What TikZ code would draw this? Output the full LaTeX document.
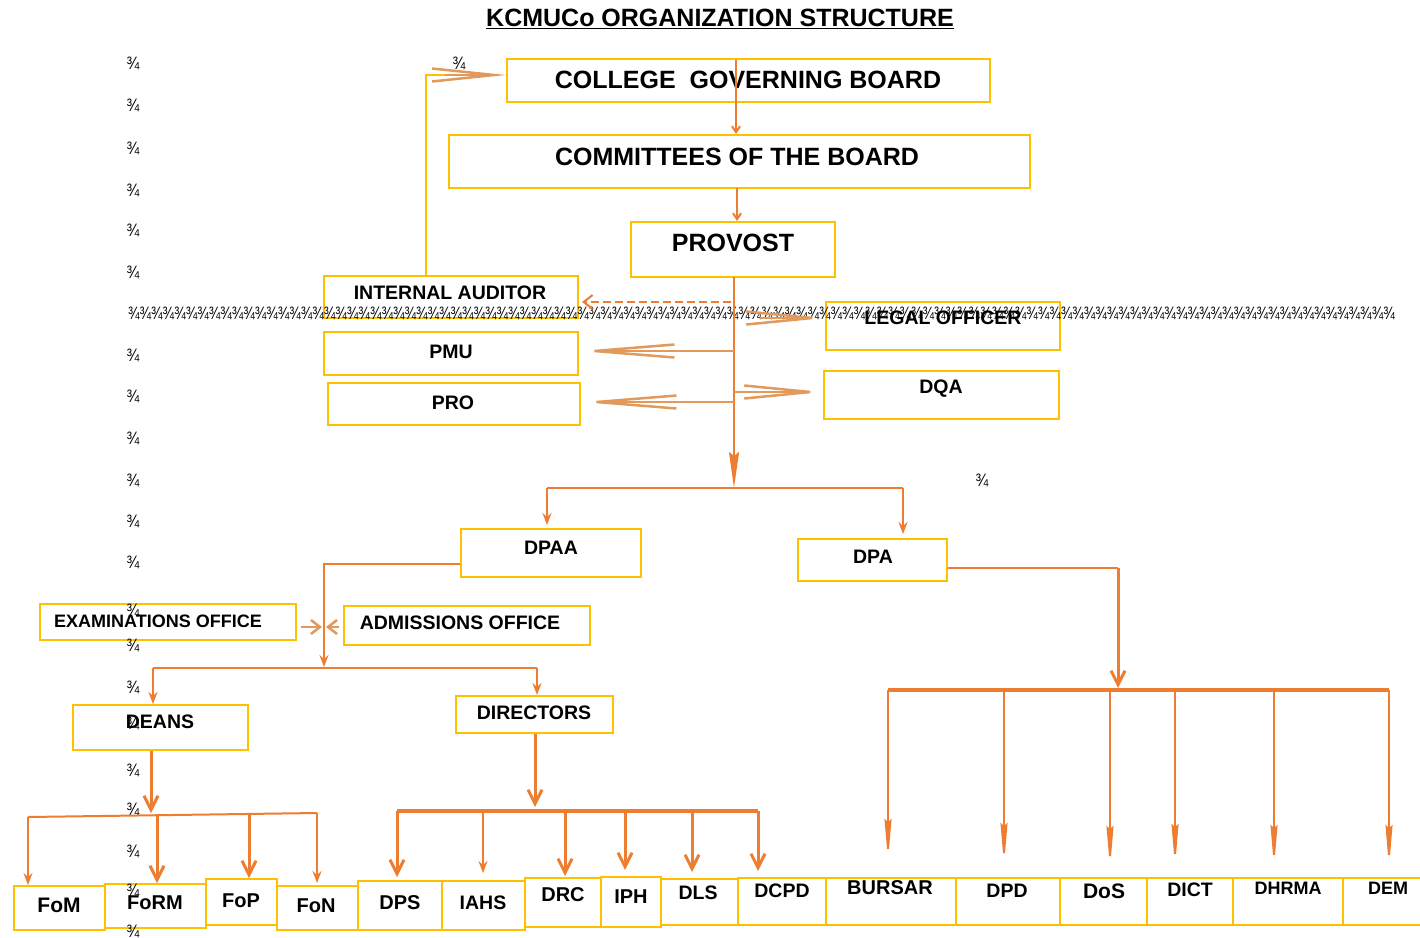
\documentclass[tikz,border=0pt]{standalone}
\usepackage{fontspec}
\setmainfont{Liberation Sans}
\usetikzlibrary{arrows.meta,calc}
\definecolor{boxY}{HTML}{FFC000}
\definecolor{org}{HTML}{ED7D31}
\definecolor{lorg}{HTML}{E2995C}
\newcommand\bxx[5]{\node[box, minimum width={(#4-#2)*1bp}, minimum height={(#5-#3)*1bp}] (#1) at ({(#2+#4)/2},{(#3+#5)/2}) {};}
\def\tenq{¾¾¾¾¾¾¾¾¾¾}
\begin{document}
\begin{tikzpicture}[x=1bp,y=-1bp,
  box/.style={draw=boxY, line width=2bp, inner sep=0pt, fill=none},
  lbl/.style={inner sep=0pt, font=\bfseries\fontsize{#1bp}{#1bp}\selectfont},
  lbl/.default=19.5,
  art/.style={inner sep=0pt, font=\fontsize{18bp}{18bp}\selectfont},
  con/.style={draw=org, line width=2bp},
  conT/.style={draw=org, line width=3bp},
  lcon/.style={draw=lorg, line width=2.5bp},
  yl/.style={draw=boxY, line width=2bp},
  hsmall/.style={-{Stealth[length=12bp,width=9bp,inset=4bp]}},
  hbarb/.style={-{Straight Barb[length=14bp,width=14bp]}},
  hlong/.style={-{Stealth[length=42bp,width=7bp,inset=3bp]}},
  hopen/.style={-{Straight Barb[length=#1,width=13bp]}},
  hchev/.style={-{Straight Barb[length=9bp,width=14bp]}}
]
\useasboundingbox (0,0) rectangle (1420,937);
\fill[white] (0,0) rectangle (1420,937);

% ---------- boxes ----------
\bxx{cgb}{507}{59}{990}{102}
\bxx{com}{449}{135}{1030}{188}
\bxx{prov}{631}{222}{835}{277}
\bxx{ia}{324}{276}{578}{318}
\bxx{legal}{826}{302}{1060}{350}
\bxx{pmu}{324}{332}{578}{375}
\bxx{pro}{328}{383}{580}{425}
\bxx{dqa}{824}{371}{1059}{419}
\bxx{dpaa}{461}{529}{641}{577}
\bxx{dpa}{798}{539}{947}{581}
\bxx{exam}{40}{604}{296}{640}
\bxx{adm}{344}{606}{590}{645}
\bxx{deans}{73}{705}{248}{750}
\bxx{dirs}{456}{696}{613}{733}
\bxx{fom}{14}{886}{105}{930}
\bxx{form}{105}{884}{206}{928}
\bxx{fop}{206}{879}{277}{925}
\bxx{fon}{277}{886}{358}{930}
\bxx{dps}{358}{881}{442}{930}
\bxx{iahs}{442}{881}{525}{930}
\bxx{drc}{525}{878}{601}{927}
\bxx{iph}{601}{877}{661}{927}
\bxx{dls}{661}{879}{738}{925}
\bxx{dcpd}{738}{878}{826}{925}
\bxx{bursar}{826}{878}{956}{925}
\bxx{dpd}{956}{878}{1060}{925}
\bxx{dos}{1060}{878}{1147}{925}
\bxx{dict}{1147}{878}{1233}{925}
\bxx{dhrma}{1233}{878}{1343}{925}
\bxx{dem}{1343}{878}{1424}{925}

% ---------- texts ----------
\node[lbl=25] (title) at (720,19) {\underline{KCMUCo ORGANIZATION STRUCTURE}};
\node[lbl=25] (cgbT) at (748,80) {COLLEGE\ \ GOVERNING BOARD};
\node[lbl=25] (comT) at (737,157) {COMMITTEES OF THE BOARD};
\node[lbl=25] (provT) at (733,243) {PROVOST};
\node[lbl] (iaT) at (450,293) {INTERNAL AUDITOR};
\node[lbl] (legalT) at (943,318) {LEGAL OFFICER};
\node[lbl] (pmuT) at (451,352) {PMU};
\node[lbl] (proT) at (453,403) {PRO};
\node[lbl] (dqaT) at (941,389) {DQA};
\node[lbl] (dpaaT) at (551,548) {DPAA};
\node[lbl] (dpaT) at (873,557) {DPA};
\node[lbl=18] (examT) at (158,621) {EXAMINATIONS OFFICE};
\node[lbl] (admT) at (460,623) {ADMISSIONS OFFICE};
\node[lbl] (deansT) at (160,722) {DEANS};
\node[lbl] (dirsT) at (534,713) {DIRECTORS};
\node[lbl=21] (fomT) at (59,905) {FoM};
\node[lbl=20] (formT) at (155,903) {FoRM};
\node[lbl=20] (fopT) at (241,901) {FoP};
\node[lbl=20] (fonT) at (316,906) {FoN};
\node[lbl=20] (dpsT) at (400,903) {DPS};
\node[lbl] (iahsT) at (483,903) {IAHS};
\node[lbl=20] (drcT) at (563,895) {DRC};
\node[lbl=20] (iphT) at (631,897) {IPH};
\node[lbl] (dlsT) at (698,893) {DLS};
\node[lbl] (dcpdT) at (782,891) {DCPD};
\node[lbl=20] (bursarT) at (890,888) {BURSAR};
\node[lbl] (dpdT) at (1007,891) {DPD};
\node[lbl=21] (dosT) at (1104,891) {DoS};
\node[lbl] (dictT) at (1190,890) {DICT};
\node[lbl=18] (dhrmaT) at (1288,888) {DHRMA};
\node[lbl=18] (demT) at (1388,888) {DEM};

% ---------- stray 3/4 characters ----------
\foreach \yy [count=\k] in {63,105,148,190,230,272,355,396,438,480,521,562,610,645,687,723,770,809,851,890,931}
  \node[art] (q\k) at (133,\yy) {\scalebox{0.85}[1]{¾}};
\node[art] (qa) at (459,63) {\scalebox{0.85}[1]{¾}};
\node[art] (qb) at (982,480) {\scalebox{0.85}[1]{¾}};
\node[art, anchor=west] (qrow) at (128,313) {\scalebox{0.767}[1]{\tenq\tenq\tenq\tenq\tenq\tenq\tenq\tenq\tenq\tenq\tenq}};

% ---------- connectors ----------
% board -> committees
\coordinate (c1) at (736,60);
\draw[con,-{Straight Barb[length=6bp,width=8bp]}] (c1) -- (c1 |- com.north);
% committees -> provost
\coordinate (c2) at (737,188);
\draw[con,-{Straight Barb[length=6bp,width=8bp]}] (c2) -- (c2 |- prov.north);
% internal auditor -> board
\coordinate (ia1) at (426,276);
\coordinate (ia2) at (426,75);
\coordinate (ia3) at (445,75);
\draw[yl] (ia1) -- (ia2) -- (ia3);
\draw[lcon,hopen=62bp] (ia3) -- (ia3 -| cgb.west);
% provost main stem
\coordinate (pv) at (734,277);
\coordinate (pvEnd) at (734,488);
\draw[con,-{Stealth[length=36bp,width=10bp,inset=4bp]}] (pv) -- (pvEnd);
% dashed to internal auditor
\coordinate (ds) at (731,302);
\draw[con,dash pattern=on 8bp off 4bp,hchev,shorten >=3bp] (ds) -- (ds -| ia.east);
% legal officer
\coordinate (lg) at (760,318);
\draw[lcon,hopen=66bp] (lg) -- (lg -| legal.west);
% PMU, PRO, DQA
\coordinate (pm) at (734,351);
\draw[lcon,hopen=80bp] (pm) -- (pm -| pmu.east);
\coordinate (pr) at (734,402);
\draw[lcon,hopen=80bp] (pr) -- (pr -| pro.east);
\coordinate (dq) at (734,392);
\draw[lcon,hopen=66bp] (dq) -- (dq -| dqa.west);
% split to DPAA / DPA
\coordinate (j1) at (547,488);
\coordinate (j2) at (903,488);
\draw[con] (j1) -- (j2);
\draw[con,hsmall,shorten >=3bp] (j1) -- (j1 |- dpaa.north);
\draw[con,hsmall,shorten >=4bp] (j2) -- (j2 |- dpa.north);
% DPAA branch
\coordinate (k1) at (324,564);
\coordinate (k2) at (324,667);
\draw[con,hsmall] (k1 -| dpaa.west) -- (k1) -- (k2);
\coordinate (ex) at (324,627);
\draw[lcon,hchev] ([xshift=4bp]ex -| exam.east) -- ([xshift=-2bp]ex);
\draw[lcon,hchev] ([xshift=-4bp]ex -| adm.west) -- ([xshift=2bp]ex);
\coordinate (k3) at (153,668);
\coordinate (k4) at (537,668);
\draw[con] (k3) -- (k4);
\draw[con,hsmall] (k3) -- (k3 |- deans.north);
\draw[con,hsmall] (k4) -- (k4 |- dirs.north);
% deans branch
\coordinate (m1) at (151,813);
\draw[conT,hbarb] (m1 |- deans.south) -- (m1);
\coordinate (f1) at (28,817);
\coordinate (f2) at (157,816);
\coordinate (f3) at (249,814);
\coordinate (f4) at (317,813);
\draw[con] (f1) -- (f4);
\draw[con,hsmall] (f1) -- (f1 |- fom.north);
\draw[conT,hbarb] (f2) -- (f2 |- form.north);
\draw[conT,hbarb] (f3) -- (f3 |- fop.north);
\draw[con,hsmall,shorten >=2bp] (f4) -- (f4 |- fon.north);
% directors branch
\coordinate (n1) at (535,807);
\draw[conT,hbarb] (n1 |- dirs.south) -- (n1);
\coordinate (g1) at (397,811);
\coordinate (g2) at (483,811);
\coordinate (g3) at (565,811);
\coordinate (g4) at (625,811);
\coordinate (g5) at (692,811);
\coordinate (g6) at (758,811);
\draw[org,line width=4bp] (g1) -- (g6);
\draw[conT,hbarb,shorten >=3bp] (g1) -- (g1 |- dps.north);
\draw[con,hsmall,shorten >=7bp] (g2) -- (g2 |- iahs.north);
\draw[conT,hbarb,shorten >=1bp] (g3) -- (g3 |- drc.north);
\draw[conT,hbarb,shorten >=6bp] (g4) -- (g4 |- iph.north);
\draw[conT,hbarb,shorten >=6bp] (g5) -- (g5 |- dls.north);
\draw[conT,hbarb,shorten >=6bp] (g6) -- (g6 |- dcpd.north);
% DPA branch
\coordinate (p1) at (1118,568);
\coordinate (p2) at (1118,688);
\draw[con] (p1 -| dpa.east) -- (p1);
\draw[conT,hbarb] (p1) -- (p2);
\coordinate (h1) at (888,690);
\coordinate (h2) at (1004,690);
\coordinate (h3) at (1110,690);
\coordinate (h4) at (1175,690);
\coordinate (h5) at (1274,690);
\coordinate (h6) at (1389,690);
\draw[org,line width=4bp] (h1) -- (h6);
\draw[con,hlong,shorten >=16bp] (h1) -- (h1 |- bursar.north);
\draw[con,hlong,shorten >=12bp] (h2) -- (h2 |- dpd.north);
\draw[con,hlong,shorten >=9bp] (h3) -- (h3 |- dos.north);
\draw[con,hlong,shorten >=11bp] (h4) -- (h4 |- dict.north);
\draw[con,hlong,shorten >=10bp] (h5) -- (h5 |- dhrma.north);
\draw[con,hlong,shorten >=10bp] (h6) -- (h6 |- dem.north);
\end{tikzpicture}
\end{document}
